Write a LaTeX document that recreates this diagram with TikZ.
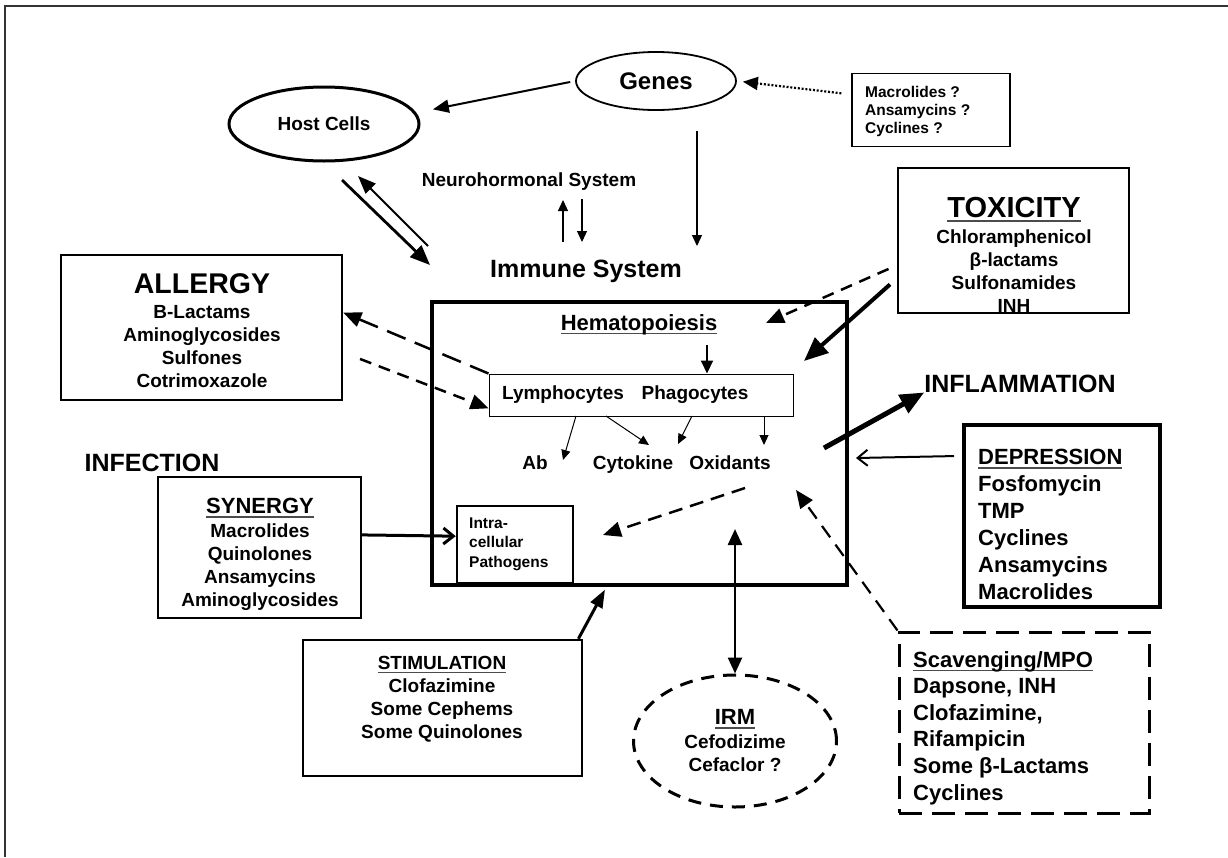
\documentclass[tikz,border=0pt]{standalone}
\usepackage{fontspec}
\setmainfont{Liberation Sans}
\usetikzlibrary{arrows.meta,shapes.geometric}

\newcommand{\fonte}[2]{\fontsize{#1}{#2}\selectfont\bfseries}
\newsavebox{\caixasub}
\newcommand{\sublinha}[1]{\sbox\caixasub{#1}\rlap{\color{black!70}\rule[-4pt]{\wd\caixasub}{1.5pt}}\usebox\caixasub}

\begin{document}
\begin{tikzpicture}
	[x=1pt,y=-1pt,every node/.style={inner sep=0pt},
	caixa/.style={draw, rectangle},
	elipse/.style={draw, ellipse},
	texto/.style={font=\fonte{19}{23}},
	seta/.style={-{Triangle[length=16pt,width=13pt]}, line width=2pt},
	setafina/.style={-{Triangle[length=11pt,width=10pt]}, line width=1.2pt},
	setinha/.style={-{Triangle[length=10pt,width=9pt]}, line width=1pt},
	setagrossa/.style={-{Triangle[length=24pt,width=20pt]}, line width=4pt},
	setatracejada/.style={-{Triangle[length=18pt,width=15pt]}, line width=2.5pt},
	setaaberta/.style={-{Straight Barb[length=10pt,width=16pt]}}]
	\useasboundingbox (0,0) rectangle (1228,857);
	\draw[line width=1.5pt, black!80] (5,857) -- (5,6) -- (1228,6); %moldura

	\node[elipse, line width=1.8pt, minimum width=160pt, minimum height=58pt, font=\fonte{24}{28}] (genes) at (656,81) {Genes};
	\node[elipse, line width=3pt, minimum width=190pt, minimum height=74pt, texto] (host) at (324,124) {Host Cells};
	\node[elipse, line width=3pt, dash pattern=on 13pt off 9pt, minimum width=203pt, minimum height=132pt, texto, align=center] (irm) at (735,741)
		{{\fontsize{22}{23}\selectfont\sublinha{IRM}}\\[1pt]Cefodizime\\Cefaclor ?};

	\node[caixa, line width=1.5pt, minimum width=158pt, minimum height=73pt] (macro) at (931,110) {};
	\node[font=\fonte{15.5}{18}, align=left, anchor=north west] (macrotxt) at (865,86) {Macrolides ?\\Ansamycins ?\\Cyclines ?};

	\node[texto, anchor=base] (neuro) at (529,186) {Neurohormonal System};
	\node[font=\fonte{25}{30}, anchor=base] (imsys) at (586,277) {Immune System};

	%sistema imune
	\node[caixa, line width=4pt, minimum width=415pt, minimum height=283pt] (imbox) at (639.5,443.5) {};
	\node[font=\fonte{22}{26}, anchor=base] (hema) at (639,330) {\sublinha{Hematopoiesis}};
	\node[caixa, line width=1pt, minimum width=304pt, minimum height=42pt] (cel) at (641,395) {};
	\node[texto, anchor=base] (linf) at (563,399) {Lymphocytes};
	\node[texto, anchor=base] (fago) at (695,399) {Phagocytes};
	\node[texto, anchor=base] (ab) at (535,469) {Ab};
	\node[texto, anchor=base] (cito) at (633,469) {Cytokine};
	\node[texto, anchor=base] (oxi) at (730,469) {Oxidants};
	\node[caixa, line width=2.5pt, minimum width=116pt, minimum height=77pt] (intra) at (515,544.5) {};
	\node[font=\fonte{15.5}{19.5}, align=left, anchor=north west] (intratxt) at (469,517.5) {Intra-\\cellular\\Pathogens};

	\node[caixa, line width=2.5pt, minimum width=281pt, minimum height=145pt] (allergy) at (201.5,327.5) {};
	\node[texto, align=center, anchor=north] (allergytxt) at (202,273)
		{{\fontsize{28.5}{30}\selectfont ALLERGY}\\[2.5pt]B-Lactams\\Aminoglycosides\\Sulfones\\Cotrimoxazole};

	\node[caixa, line width=2.5pt, minimum width=231pt, minimum height=145pt] (tox) at (1013.5,240.5) {};
	\node[texto, align=center, anchor=north] (toxtxt) at (1014,197.5)
		{{\fontsize{29}{30}\selectfont\sublinha{TOXICITY}}\\[2.4pt]Chloramphenicol\\β-lactams\\Sulfonamides\\INH};

	\node[font=\fonte{25}{30}, anchor=base] (infl) at (1020,392) {INFLAMMATION};
	\node[font=\fonte{25}{30}, anchor=base] (infec) at (152,471) {INFECTION};

	\node[caixa, line width=4pt, minimum width=196pt, minimum height=182pt] (dep) at (1062,516) {};
	\node[font=\fonte{22}{27}, align=left, anchor=north west] (deptxt) at (978,449)
		{\sublinha{DEPRESSION}\\Fosfomycin\\TMP\\Cyclines\\Ansamycins\\Macrolides};

	\node[caixa, line width=3pt, dash pattern=on 23pt off 10pt, minimum width=250pt, minimum height=181pt] (scav) at (1024,722.5) {};
	\node[font=\fonte{22}{26.6}, align=left, anchor=north west] (scavtxt) at (913,651)
		{\sublinha{Scavenging/MPO}\\Dapsone, INH\\Clofazimine,\\Rifampicin\\Some β-Lactams\\Cyclines};

	\node[caixa, line width=2pt, minimum width=203pt, minimum height=141pt] (syn) at (259.5,547.5) {};
	\node[texto, align=center, anchor=north] (syntxt) at (260,498)
		{{\fontsize{22}{23}\selectfont\sublinha{SYNERGY}}\\[1pt]Macrolides\\Quinolones\\Ansamycins\\Aminoglycosides};

	\node[caixa, line width=2.5pt, minimum width=279pt, minimum height=136pt] (stim) at (442.5,708) {};
	\node[texto, align=center, anchor=north] (stimtxt) at (442,656)
		{\sublinha{STIMULATION}\\Clofazimine\\Some Cephems\\Some Quinolones};

	%pontas soltas
	\coordinate (g1) at (697,131); \coordinate (g2) at (697,246);
	\coordinate (n1) at (563,242); \coordinate (n2) at (563,200);
	\coordinate (n3) at (582,199); \coordinate (n4) at (582,242);
	\coordinate (h1) at (342,180); \coordinate (h2) at (430,265);
	\coordinate (h3) at (428,246); \coordinate (h4) at (358,176);
	\coordinate (t1) at (766,323); \coordinate (t2) at (804,361);
	\coordinate (f1) at (824,448);
	\coordinate (o1) at (745,488); \coordinate (o2) at (603,535);
	\coordinate (s1) at (796,490);
	\coordinate (r1) at (735,529);
	\coordinate (m1) at (707,345);
	\coordinate (a1) at (576,416); \coordinate (b1) at (563,460);
	\coordinate (a2) at (606,416); \coordinate (b2) at (649,445);
	\coordinate (a3) at (692,416); \coordinate (b3) at (678,444);
	\coordinate (a4) at (764,416); \coordinate (b4) at (764,445);

	\draw[seta, shorten <=5pt, shorten >=17pt] (genes.west) -- (host.7);
	\draw[-{Triangle[length=15pt,width=13pt]}, line width=2.2pt, dash pattern=on 2pt off 1.8pt,
		shorten <=10pt, shorten >=6pt] (macro.169) -- (genes.east);
	\draw[setafina] (g1) -- (g2);
	\draw[setafina] (n1) -- (n2);
	\draw[setafina] (n3) -- (n4);
	\draw[-{Triangle[length=20pt,width=16pt]}, line width=2.8pt] (h1) -- (h2);
	\draw[-{Triangle[length=18pt,width=14pt]}, line width=2pt] (h3) -- (h4);

	\draw[setatracejada, dash pattern=on 20pt off 10pt] (cel.north west) -- (allergy.6);
	\draw[setatracejada, dash pattern=on 12pt off 8pt, shorten <=18pt] (allergy.-10) -- (cel.185);
	\draw[setatracejada, dash pattern=on 12pt off 8pt, shorten <=9pt] (tox.192) -- (t1);
	\draw[setagrossa, shorten <=9pt] (tox.198) -- (t2);
	\draw[-{Triangle[length=24pt,width=20pt]}, line width=5pt] (f1) -- (infl.south west);
	\draw[setaaberta, line width=2pt, shorten <=8pt, shorten >=7pt] (dep.149) -- (imbox.-4);
	\draw[setaaberta, line width=3pt] (syn.7) -- (intra.172);
	\draw[-{Triangle[length=18pt,width=13pt]}, line width=3pt, shorten >=3pt] (stim.27) -- (imbox.257);
	\draw[{Triangle[length=16pt,width=14pt]}-{Triangle[length=16pt,width=14pt]}, line width=2.5pt] (irm.north) -- (r1);
	\draw[setatracejada, dash pattern=on 14pt off 9pt, line width=2.2pt] (scav.north west) -- (s1);
	\draw[setatracejada, dash pattern=on 14pt off 8pt] (o1) -- (o2);
	\draw[-{Triangle[length=13pt,width=12pt]}, line width=2pt] (m1) -- (m1 |- cel.north);

	\foreach \i in {1,...,4}
	\draw[setinha] (a\i) -- (b\i);
\end{tikzpicture}
\end{document}
